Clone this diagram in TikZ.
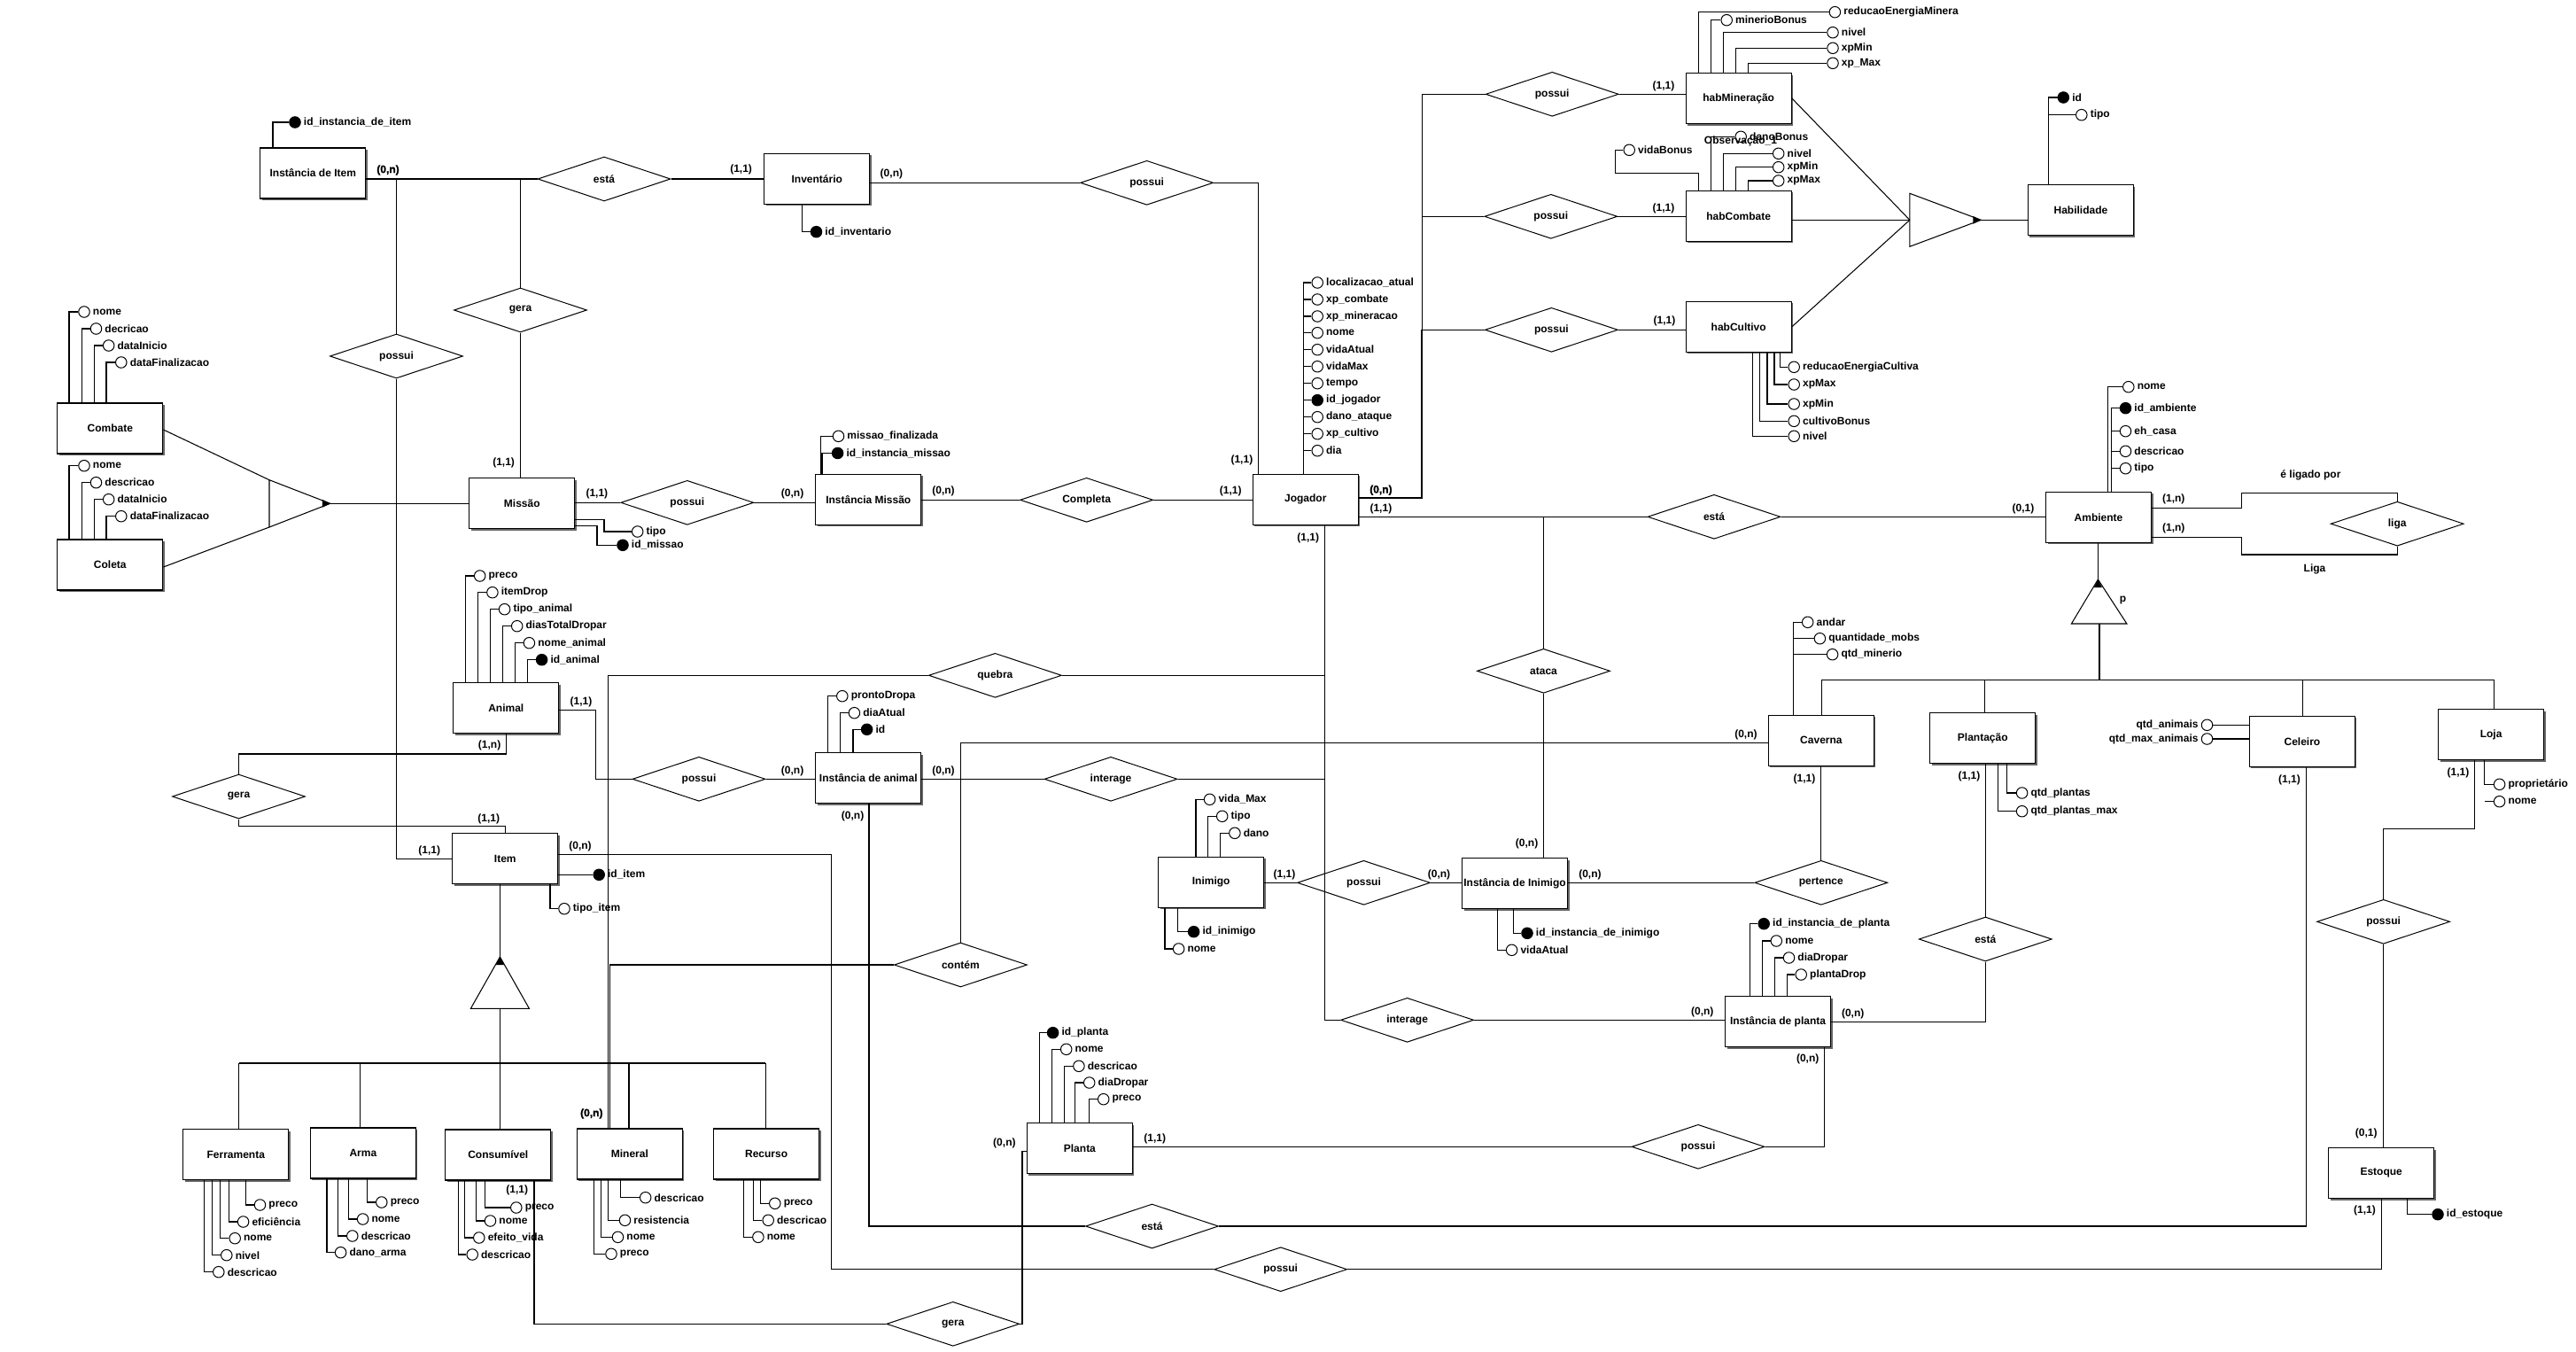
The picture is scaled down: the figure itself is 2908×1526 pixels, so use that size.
\documentclass[tikz,border=0pt]{standalone}
\usepackage{fontspec}
\setmainfont{Liberation Sans}
\newfontfamily\heavyfont{Liberation Sans Bold}[FakeBold=1.5]
\usetikzlibrary{shapes.geometric,shadows}
\newcommand\erfont{\fontsize{12}{14}\selectfont\bfseries}
\newcommand\Atr[4][atc]{\node[#1] (#2) at (#3) {}; \node[atl] (#2t) at (#2.east) {#4};}
\newcommand\AtrL[4][atc]{\node[#1] (#2) at (#3) {}; \node[atll] (#2t) at (#2.west) {#4};}
\tikzset{
 ent/.style={draw, line width=1.3pt, fill=white, minimum width=119pt, minimum height=57pt, inner sep=0pt, font=\erfont, general shadow={fill=black!60, shadow xshift=2pt, shadow yshift=-2pt}},
 rel/.style={draw, diamond, aspect=3, minimum width=150pt, minimum height=50pt, inner sep=0pt, line width=1pt, font=\erfont},
 atc/.style={draw, circle, minimum size=12.5pt, inner sep=0pt, line width=1pt, fill=white},
 atk/.style={atc, fill=black},
 atl/.style={anchor=west, inner sep=0pt, xshift=3pt, font=\erfont},
 atll/.style={anchor=east, inner sep=0pt, xshift=-3pt, font=\erfont},
 card/.style={inner sep=0pt, font=\erfont},
 heavycard/.style={inner sep=0pt, font=\fontsize{12}{14}\heavyfont},
 con/.style={line width=1.05pt},
 thk/.style={line width=2.6pt},
}
\begin{document}
\begin{tikzpicture}[x=1pt,y=-1pt]
\fill[white] (0,0) rectangle (2908,1526);
\useasboundingbox (0,0) rectangle (2908,1526);

% ---------- entities
\node[ent] (InstItem) at (353.3,195.5) {Instância de Item};
\node[ent] (Inventario) at (922.3,201.7) {Inventário};
\node[ent] (Combate) at (124.3,483.5) {Combate};
\node[ent] (Coleta) at (124.3,637.5) {Coleta};
\node[ent] (Missao) at (589.3,568) {Missão};
\node[ent] (InstMissao) at (980.3,563.8) {Instância Missão};
\node[ent] (Jogador) at (1473.8,563.8) {Jogador};
\node[ent] (habMin) at (1962.7,111) {habMineração};
\node[ent] (habComb) at (1962.7,243.8) {habCombate};
\node[ent] (habCult) at (1962.7,368.8) {habCultivo};
\node[ent] (Habilidade) at (2348.9,237.2) {Habilidade};
\node[ent] (Ambiente) at (2369,583.8) {Ambiente};
\node[ent] (Animal) at (571.3,799) {Animal};
\node[ent] (InstAnimal) at (980.3,878) {Instância de animal};
\node[ent] (Item) at (570.3,969.2) {Item};
\node[ent] (Inimigo) at (1367.2,995.8) {Inimigo};
\node[ent] (InstInimigo) at (1710,997) {Instância de Inimigo};
\node[ent] (Caverna) at (2055.9,835.8) {Caverna};
\node[ent] (Plantacao) at (2238.3,833) {Plantação};
\node[ent] (Celeiro) at (2598.9,836.8) {Celeiro};
\node[ent] (Loja) at (2812.1,829.2) {Loja};
\node[ent] (InstPlanta) at (2007,1153.3) {Instância de planta};
\node[ent] (Planta) at (1218.9,1296) {Planta};
\node[ent] (Estoque) at (2688.2,1324) {Estoque};
\node[ent] (Ferramenta) at (266.3,1303.2) {Ferramenta};
\node[ent] (Arma) at (409.9,1301.4) {Arma};
\node[ent] (Consumivel) at (562.3,1303.4) {Consumível};
\node[ent] (Mineral) at (710.9,1302.5) {Mineral};
\node[ent] (Recurso) at (865.1,1302.5) {Recurso};

% ---------- relationships
\node[rel] (estaItem) at (682,202) {está};
\node[rel] (possuiInv) at (1294.6,206.3) {possui};
\node[rel] (geraUp) at (587.5,350) {gera};
\node[rel] (possuiItem) at (447.5,402) {possui};
\node[rel] (possuiMissao) at (775.8,567.3) {possui};
\node[rel] (Completa) at (1226.6,564.3) {Completa};
\node[rel] (possuiMin) at (1752.2,106.3) {possui};
\node[rel] (possuiComb) at (1750.8,244.3) {possui};
\node[rel] (possuiCult) at (1751.4,372.3) {possui};
\node[rel] (estaAmb) at (1935,583.3) {está};
\node[rel] (liga) at (2706.2,591.2) {liga};
\node[rel] (quebra) at (1123.4,762.3) {quebra};
\node[rel] (ataca) at (1742.5,757.3) {ataca};
\node[rel] (possuiAnimal) at (789,879.3) {possui};
\node[rel] (interageUp) at (1254,879.3) {interage};
\node[rel] (geraLeft) at (269.5,899) {gera};
\node[rel] (possuiInimigo) at (1539.5,996.3) {possui};
\node[rel] (pertence) at (2055.8,996.3) {pertence};
\node[rel] (contem) at (1084.4,1089) {contém};
\node[rel] (estaPlant) at (2241.3,1060) {está};
\node[rel] (possuiLoja) at (2690.6,1040.3) {possui};
\node[rel] (interageLow) at (1588.6,1151.3) {interage};
\node[rel] (possuiPlanta) at (1917,1294.3) {possui};
\node[rel] (estaLow) at (1300.5,1384) {está};
\node[rel] (possuiLow) at (1445.7,1432.7) {possui};
\node[rel] (geraLow) at (1075.8,1494.3) {gera};

% ---------- generalization triangles
\coordinate (gA1) at (304,541.7); \coordinate (gA2) at (304,595); \coordinate (gAp) at (372.8,568.3);
\draw[con] (gA1) -- (gA2) -- (gAp) -- cycle;
\fill (gAp) -- ++(-9,-4.5) -- ++(0,9) -- cycle;
\coordinate (gH1) at (2155.9,218.3); \coordinate (gH2) at (2155.9,278.3); \coordinate (gHap) at (2236.3,248.3); \coordinate (gHm) at (2155.9,248.3);
\draw[con] (gH1) -- (gH2) -- (gHap) -- cycle;
\fill (gHap) -- ++(-9,-4.5) -- ++(0,9) -- cycle;
\coordinate (gIap) at (564.4,1080); \coordinate (gIb1) at (531.4,1138.3); \coordinate (gIb2) at (597.4,1138.3); \coordinate (gIbm) at (564.4,1138.3);
\draw[con] (gIap) -- (gIb1) -- (gIb2) -- cycle;
\fill (gIap) -- ++(-4.5,9) -- ++(9,0) -- cycle;
\coordinate (gEap) at (2368.4,654); \coordinate (gEb1) at (2338.4,704); \coordinate (gEb2) at (2400.9,704); \coordinate (gEbm) at (2369.6,704);
\draw[con] (gEap) -- (gEb1) -- (gEb2) -- cycle;
\fill (gEap) -- ++(-4.5,9) -- ++(9,0) -- cycle;

% ---------- connectors
\draw[thk] (InstItem.east |- 0,202) -- (587.5,202);
\draw[con] (587.5,202) -- (estaItem.west);
\draw[con] (estaItem.east) -- (Inventario.west |- estaItem.east);
\draw[con] (Inventario.east |- possuiInv.west) -- (possuiInv.west);
\draw[con] (possuiInv.east) -- (1420.3,206.3) -- (Jogador.north -| 1420.3,0);
\draw[con] (447.5,202) -- (possuiItem.north);
\draw[con] (possuiItem.south) -- (447.5,969.3) -- (Item.west |- 0,969.3);
\draw[con] (geraUp.north) -- (587.5,202);
\draw[con] (geraUp.south) -- (Missao.north -| geraUp.south);
\draw[con] (Combate.east |- 0,485) -- (gA1);
\draw[con] (Coleta.east |- 0,640) -- (gA2);
\draw[con] (gAp) -- (Missao.west |- gAp);
\draw[con] (Missao.east |- possuiMissao.west) -- (possuiMissao.west);
\draw[con] (possuiMissao.east) -- (InstMissao.west |- possuiMissao.east);
\draw[con] (InstMissao.east |- Completa.west) -- (Completa.west);
\draw[con] (Completa.east) -- (Jogador.west |- Completa.east);
\draw[line width=2.3pt] (Jogador.east |- 0,562.3) -- (1605.2,562.3) -- (1605.2,372.3);
\draw[con] (1605.2,372.3) -- (1605.2,106.3) -- (possuiMin.west);
\draw[con] (1605.2,244.3) -- (possuiComb.west);
\draw[con] (1605.2,372.3) -- (possuiCult.west);
\draw[con] (possuiMin.east) -- (habMin.west |- possuiMin.east);
\draw[con] (possuiComb.east) -- (habComb.west |- possuiComb.east);
\draw[con] (possuiCult.east) -- (habCult.west |- possuiCult.east);
\draw[con] (habMin.east) -- (gHm);
\draw[con] (habComb.east |- gHm) -- (gHm);
\draw[con] (habCult.east) -- (gHm);
\draw[con] (gHap) -- (Habilidade.west |- gHap);
\draw[con] (Jogador.east |- 0,583.3) -- (estaAmb.west);
\draw[con] (estaAmb.east) -- (Ambiente.west |- estaAmb.east);
\draw[con] (1742.5,583.3) -- (ataca.north);
\draw[con] (ataca.south) -- (InstInimigo.north -| ataca.south);
\draw[con] (Jogador.south -| 1495.7,0) -- (1495.7,1151.3) -- (interageLow.west);
\draw[con] (quebra.east) -- (1495.7,762.3);
\draw[con] (quebra.west) -- (686.6,762.3) -- (Mineral.north -| 686.6,0);
\draw[con] (Caverna.west |- 0,838.3) -- (1084.4,838.3) -- (contem.north);
\draw[con] (contem.west) -- (688.8,1089) -- (Mineral.north -| 688.8,0);
\draw[con] (interageUp.east) -- (1495.7,879.3);
\draw[con] (InstAnimal.east |- interageUp.west) -- (interageUp.west);
\draw[con] (Animal.east |- 0,801.7) -- (672.5,801.7) -- (672.5,879.3) -- (possuiAnimal.west);
\draw[con] (possuiAnimal.east) -- (InstAnimal.west |- possuiAnimal.east);
\draw[con] (Animal.south) -- (571.3,851) -- (269.5,851) -- (geraLeft.north);
\draw[con] (geraLeft.south) -- (269.5,932.3) -- (570.3,932.3) -- (Item.north);
\draw[con] (Item.east |- 0,964.3) -- (938.5,964.3) -- (938.5,1432.7) -- (possuiLow.west);
\draw[con] (possuiLow.east) -- (2688.5,1432.7) -- (Estoque.south -| 2688.5,0);
\draw[con] (InstAnimal.south -| 981,0) -- (981,1384) -- (estaLow.west);
\draw[con] (estaLow.east) -- (2603.6,1384) -- (Celeiro.south -| 2603.6,0);
\draw[con] (Item.south -| gIap) -- (gIap);
\draw[con] (gIbm) -- (564.4,1200);
\draw[con] (269.5,1200) -- (864.4,1200);
\draw[con] (269.5,1200) -- (Ferramenta.north -| 269.5,0);
\draw[con] (406.3,1200) -- (Arma.north -| 406.3,0);
\draw[con] (564.4,1200) -- (Consumivel.north -| 564.4,0);
\draw[con] (710,1200) -- (Mineral.north -| 710,0);
\draw[con] (864.4,1200) -- (Recurso.north -| 864.4,0);
\draw[con] (Consumivel.south -| 603,0) -- (603,1494.3) -- (geraLow.west);
\draw[con] (geraLow.east) -- (1154,1494.3) -- (1154,1299.3) -- (Planta.west |- 0,1299.3);
\draw[con] (Planta.east |- possuiPlanta.west) -- (possuiPlanta.west);
\draw[con] (possuiPlanta.east) -- (2059.6,1294.3) -- (InstPlanta.south -| 2059.6,0);
\draw[con] (interageLow.east) -- (InstPlanta.west |- interageLow.east);
\draw[con] (InstPlanta.east) -- (2241.3,1153.3) -- (estaPlant.south);
\draw[con] (estaPlant.north) -- (Plantacao.south -| estaPlant.north);
\draw[con] (Inimigo.east |- possuiInimigo.west) -- (possuiInimigo.west);
\draw[con] (possuiInimigo.east) -- (InstInimigo.west |- possuiInimigo.east);
\draw[con] (InstInimigo.east |- pertence.west) -- (pertence.west);
\draw[con] (pertence.north) -- (Caverna.south -| pertence.north);
\draw[con] (Ambiente.south -| gEap) -- (gEap);
\draw[line width=2pt] (gEbm) -- (2369.6,767.7);
\draw[con] (2056.3,767.7) -- (2815.9,767.7);
\draw[con] (2056.3,767.7) -- (Caverna.north -| 2056.3,0);
\draw[con] (2240.6,767.7) -- (Plantacao.north -| 2240.6,0);
\draw[con] (2599.8,767.7) -- (Celeiro.north -| 2599.8,0);
\draw[con] (2815.9,767.7) -- (Loja.north -| 2815.9,0);
\draw[con] (Ambiente.east |- 0,573.3) -- (2530.6,573.3) -- (2530.6,556.7) -- (2706.2,556.7) -- (liga.north);
\draw[con] (Ambiente.east |- 0,606.7) -- (2530.6,606.7) -- (2530.6,626) -- (2706.2,626) -- (liga.south);
\draw[con] (Loja.south -| 2793.5,0) -- (2793.5,935.7) -- (2690.6,935.7) -- (possuiLoja.north);
\draw[con] (possuiLoja.south) -- (Estoque.north -| possuiLoja.south);

% ---------- cardinalities and free texts
\node[heavycard] (k1) at (438,192) {(0,n)};
\node[card] (k2) at (836.6,191.7) {(1,1)};
\node[card] (k3) at (1006.4,196.7) {(0,n)};
\node[card] (k4) at (1401.9,519) {(1,1)};
\node[card] (k5) at (568.6,522.7) {(1,1)};
\node[card] (k6) at (673.9,557.7) {(1,1)};
\node[card] (k7) at (894.6,557.7) {(0,n)};
\node[card] (k8) at (1065,554.3) {(0,n)};
\node[card] (k9) at (1389.2,554.3) {(1,1)};
\node[heavycard] (k10) at (1558.9,553.3) {(0,n)};
\node[card] (k11) at (1558.9,574) {(1,1)};
\node[card] (k12) at (1476.8,607.3) {(1,1)};
\node[card] (k13) at (2284,574) {(0,1)};
\node[card] (k14) at (2453.8,563.3) {(1,n)};
\node[card] (k15) at (2453.8,596.7) {(1,n)};
\node[card] (k16) at (1878,97) {(1,1)};
\node[card] (k17) at (1878,235.3) {(1,1)};
\node[card] (k18) at (1878.9,362.7) {(1,1)};
\node[card] (k19) at (656,792) {(1,1)};
\node[card] (k20) at (552.6,841.7) {(1,n)};
\node[card] (k21) at (894.6,870) {(0,n)};
\node[card] (k22) at (1065,870) {(0,n)};
\node[card] (k23) at (962.6,921) {(0,n)};
\node[card] (k24) at (551.7,924) {(1,1)};
\node[card] (k25) at (484.7,960) {(1,1)};
\node[card] (k26) at (655,955) {(0,n)};
\node[card] (k27) at (1970.9,829.3) {(0,n)};
\node[card] (k28) at (2037,879) {(1,1)};
\node[card] (k29) at (2223,876.7) {(1,1)};
\node[card] (k30) at (2584.5,880) {(1,1)};
\node[card] (k31) at (2774.9,872.7) {(1,1)};
\node[card] (k32) at (1723.6,952) {(0,n)};
\node[card] (k33) at (1450,987.3) {(1,1)};
\node[card] (k34) at (1624.5,987.3) {(0,n)};
\node[card] (k35) at (1794.9,987.3) {(0,n)};
\node[card] (k36) at (1921.8,1142) {(0,n)};
\node[card] (k37) at (2091.7,1144) {(0,n)};
\node[card] (k38) at (2040.7,1195) {(0,n)};
\node[card] (k39) at (1133.9,1290) {(0,n)};
\node[card] (k40) at (1303.7,1285) {(1,1)};
\node[card] (k41) at (2671.3,1279.3) {(0,1)};
\node[card] (k42) at (2669.4,1366.7) {(1,1)};
\node[heavycard] (k43) at (667.8,1257) {(0,n)};
\node[card] (k44) at (583.7,1343.3) {(1,1)};
\node[card] (tLigado) at (2608.4,536) {é ligado por};
\node[card] (tLiga) at (2613,642.7) {Liga};
\node[card] (tP) at (2396.6,677.7) {p};

% ---------- attributes
\Atr[atk]{iia}{333,138}{id\_instancia\_de\_item}
\draw[con] (InstItem.north -| 308,0) |- (iia.west);
\Atr[atk]{inva}{921.5,261.7}{id\_inventario}
\draw[con] (Inventario.south -| 905.5,0) |- (inva.west);

\Atr{cb1}{95,352}{nome} \draw[con] (Combate.north -| 78,0) |- (cb1.west);
\Atr{cb2}{108.5,371}{decricao} \draw[con] (Combate.north -| 92.5,0) |- (cb2.west);
\Atr{cb3}{122.7,390}{dataInicio} \draw[con] (Combate.north -| 106.6,0) |- (cb3.west);
\Atr{cb4}{136.8,409}{dataFinalizacao} \draw[con] (Combate.north -| 120,0) |- (cb4.west);
\Atr{cl1}{95,525.7}{nome} \draw[con] (Coleta.north -| 78,0) |- (cl1.west);
\Atr{cl2}{108.5,544.7}{descricao} \draw[con] (Coleta.north -| 92.5,0) |- (cl2.west);
\Atr{cl3}{122.7,563.7}{dataInicio} \draw[con] (Coleta.north -| 106.6,0) |- (cl3.west);
\Atr{cl4}{136.8,582.7}{dataFinalizacao} \draw[con] (Coleta.north -| 120,0) |- (cl4.west);

\Atr{ms1}{719.7,600}{tipo}
\draw[con] (Missao.east |- 0,586.7) -- (682,586.7) |- (ms1.west);
\Atr[atk]{ms2}{703,615.3}{id\_missao}
\draw[con] (Missao.east |- 0,593.3) -- (674,593.3) |- (ms2.west);

\Atr{im1}{946.5,492.3}{missao\_finalizada} \draw[con] (InstMissao.north -| 926.2,0) |- (im1.west);
\Atr[atk]{im2}{945.6,511.5}{id\_instancia\_missao} \draw[con] (InstMissao.north -| 928,0) |- (im2.west);

\Atr{jg1}{1487.2,319}{localizacao\_atual}
\Atr{jg2}{1487.2,338}{xp\_combate}
\Atr{jg3}{1487.2,357}{xp\_mineracao}
\Atr{jg4}{1487.2,375.7}{nome}
\Atr{jg5}{1487.2,394.7}{vidaAtual}
\Atr{jg6}{1487.2,413.7}{vidaMax}
\Atr{jg7}{1487.2,432.7}{tempo}
\Atr[atk]{jg8}{1487.2,451.7}{id\_jogador}
\Atr{jg9}{1487.2,470.7}{dano\_ataque}
\Atr{jg10}{1487.2,489.7}{xp\_cultivo}
\Atr{jg11}{1487.2,508.7}{dia}
\draw[con] (Jogador.north -| 1471.1,0) |- (jg1.west);
\foreach \k in {2,...,11} {\draw[con] (1471.1,0 |- jg\k.west) -- (jg\k.west);}

\Atr{hm1}{2071.4,13.7}{reducaoEnergiaMinera} \draw[con] (habMin.north -| 1917.6,0) |- (hm1.west);
\Atr{hm2}{1949.2,22.7}{minerioBonus} \draw[con] (habMin.north -| 1931.7,0) |- (hm2.west);
\Atr{hm3}{2069,36.7}{nivel} \draw[con] (habMin.north -| 1945.9,0) |- (hm3.west);
\Atr{hm4}{2069,54.3}{xpMin} \draw[con] (habMin.north -| 1959.6,0) |- (hm4.west);
\Atr{hm5}{2069,71.3}{xp\_Max} \draw[con] (habMin.north -| 1973.7,0) |- (hm5.west);

\Atr{hc1}{1839.2,169.3}{vidaBonus}
\draw[con] (habComb.north -| 1917.6,0) -- (1917.6,195.3) -- (1823.7,195.3) |- (hc1.west);
\Atr{hc2}{1965.2,154.3}{danoBonus} \draw[con] (habComb.north -| 1931.7,0) |- (hc2.west);
\Atr{hc3}{2007.7,173.3}{nivel} \draw[con] (habComb.north -| 1945.9,0) |- (hc3.west);
\Atr{hc4}{2007.7,188.7}{xpMin} \draw[con] (habComb.north -| 1959.6,0) |- (hc4.west);
\Atr{hc5}{2007.7,204}{xpMax} \draw[con] (habComb.north -| 1973.7,0) |- (hc5.west);
\node[card] (tObs) at (1965,159.3) {Observação\_1};

\Atr{hv1}{2025.2,414.3}{reducaoEnergiaCultiva} \draw[con] (habCult.south -| 2009.6,0) |- (hv1.west);
\Atr{hv2}{2025.2,434}{xpMax} \draw[con] (habCult.south -| 2003,0) |- (hv2.west);
\Atr{hv3}{2025.2,456}{xpMin} \draw[con] (habCult.south -| 1995,0) |- (hv3.west);
\Atr{hv4}{2025.2,475.3}{cultivoBonus} \draw[con] (habCult.south -| 1986.5,0) |- (hv4.west);
\Atr{hv5}{2025.2,492.3}{nivel} \draw[con] (habCult.south -| 1978.4,0) |- (hv5.west);

\Atr[atk]{hb1}{2329.3,110}{id} \draw[con] (Habilidade.north -| 2312.6,0) |- (hb1.west);
\Atr{hb2}{2349.8,129.7}{tipo} \draw[con] (2312.6,0 |- hb2.west) -- (hb2.west);

\Atr{am1}{2402.8,436.7}{nome} \draw[con] (Ambiente.north -| 2379.4,0) |- (am1.west);
\Atr[atk]{am2}{2399.5,460.7}{id\_ambiente} \draw[con] (Ambiente.north -| 2383.2,0) |- (am2.west);
\Atr{am3}{2399.5,486.7}{eh\_casa} \draw[con] (2383.2,0 |- am3.west) -- (am3.west);
\Atr{am4}{2399.5,509.3}{descricao} \draw[con] (2383.2,0 |- am4.west) -- (am4.west);
\Atr{am5}{2399.5,528.7}{tipo} \draw[con] (2383.2,0 |- am5.west) -- (am5.west);

\Atr{an1}{541.7,650}{preco} \draw[con] (Animal.north -| 525.2,0) |- (an1.west);
\Atr{an2}{555.9,668.7}{itemDrop} \draw[con] (Animal.north -| 539.4,0) |- (an2.west);
\Atr{an3}{569.6,687.7}{tipo\_animal} \draw[con] (Animal.north -| 553.5,0) |- (an3.west);
\Atr{an4}{583.7,706.7}{diasTotalDropar} \draw[con] (Animal.north -| 567.7,0) |- (an4.west);
\Atr{an5}{597.4,725.7}{nome\_animal} \draw[con] (Animal.north -| 581.4,0) |- (an5.west);
\Atr[atk]{an6}{611.6,744.7}{id\_animal} \draw[con] (Animal.north -| 595.5,0) |- (an6.west);

\Atr{ia1}{950.8,785.7}{prontoDropa} \draw[con] (InstAnimal.north -| 934.7,0) |- (ia1.west);
\Atr{ia2}{964.4,804.7}{diaAtual} \draw[con] (InstAnimal.north -| 948.9,0) |- (ia2.west);
\Atr[atk]{ia3}{978.6,823.3}{id} \draw[con] (InstAnimal.north -| 963,0) |- (ia3.west);

\Atr[atk]{it1}{676.2,987.3}{id\_item} \draw[con] (Item.east |- it1.west) -- (it1.west);
\Atr{it2}{637,1025.7}{tipo\_item} \draw[con] (Item.south -| 621,0) |- (it2.west);

\Atr{in1}{1365.6,902.3}{vida\_Max} \draw[con] (Inimigo.north -| 1350,0) |- (in1.west);
\Atr{in2}{1379.7,921.3}{tipo} \draw[con] (Inimigo.north -| 1363.7,0) |- (in2.west);
\Atr{in3}{1393.9,940.3}{dano} \draw[con] (Inimigo.north -| 1377.4,0) |- (in3.west);
\Atr[atk]{in4}{1347.6,1051.7}{id\_inimigo} \draw[con] (Inimigo.south -| 1329.2,0) |- (in4.west);
\Atr{in5}{1330.6,1071}{nome} \draw[con] (Inimigo.south -| 1315,0) |- (in5.west);

\Atr[atk]{ii1}{1724,1053.3}{id\_instancia\_de\_inimigo} \draw[con] (InstInimigo.south -| 1708.5,0) |- (ii1.west);
\Atr{ii2}{1706.6,1072.3}{vidaAtual} \draw[con] (InstInimigo.south -| 1690.6,0) |- (ii2.west);

\Atr{cv1}{2040.7,702.3}{andar} \draw[con] (Caverna.north -| 2024.7,0) |- (cv1.west);
\Atr{cv2}{2054.4,720.7}{quantidade\_mobs} \draw[con] (2024.7,0 |- cv2.west) -- (cv2.west);
\Atr{cv3}{2068.6,738.7}{qtd\_minerio} \draw[con] (2024.7,0 |- cv3.west) -- (cv3.west);

\Atr{pl1}{2282.6,895}{qtd\_plantas} \draw[con] (Plantacao.south -| 2265,0) |- (pl1.west);
\Atr{pl2}{2282.6,915.7}{qtd\_plantas\_max} \draw[con] (Plantacao.south -| 2255.4,0) |- (pl2.west);

\AtrL{ce1}{2491.5,818.3}{qtd\_animais} \draw[con] (ce1.east) -- (Celeiro.west |- ce1.east);
\AtrL{ce2}{2491.5,834}{qtd\_max\_animais} \draw[con] (ce2.east) -- (Celeiro.west |- ce2.east);

\Atr{lj1}{2821.6,885.3}{proprietário} \draw[con] (Loja.south -| 2804.9,0) |- (lj1.west);
\Atr{lj2}{2821.6,904.7}{nome} \draw[con] (2804.9,0 |- lj2.west) -- (lj2.west);

\Atr[atk]{ip1}{1991.2,1042.7}{id\_instancia\_de\_planta} \draw[con] (InstPlanta.north -| 1975.6,0) |- (ip1.west);
\Atr{ip2}{2005.3,1062}{nome} \draw[con] (InstPlanta.north -| 1989.3,0) |- (ip2.west);
\Atr{ip3}{2019.5,1081}{diaDropar} \draw[con] (InstPlanta.north -| 2003.4,0) |- (ip3.west);
\Atr{ip4}{2033.2,1100}{plantaDrop} \draw[con] (InstPlanta.north -| 2017.6,0) |- (ip4.west);

\Atr[atk]{pt1}{1188.6,1165.7}{id\_planta} \draw[con] (Planta.north -| 1173.5,0) |- (pt1.west);
\Atr{pt2}{1203.7,1184.3}{nome} \draw[con] (Planta.north -| 1187.7,0) |- (pt2.west);
\Atr{pt3}{1217.9,1203.3}{descricao} \draw[con] (Planta.north -| 1201.4,0) |- (pt3.west);
\Atr{pt4}{1229.7,1222}{diaDropar} \draw[con] (Planta.north -| 1213.6,0) |- (pt4.west);
\Atr{pt5}{1245.7,1240.7}{preco} \draw[con] (Planta.north -| 1229.7,0) |- (pt5.west);

\Atr[atk]{es1}{2752,1370.7}{id\_estoque} \draw[con] (Estoque.south -| 2717.6,0) |- (es1.west);

\Atr{fe1}{293.5,1360}{preco} \draw[con] (Ferramenta.south -| 277.5,0) |- (fe1.west);
\Atr{fe2}{274.6,1379}{eficiência} \draw[con] (Ferramenta.south -| 258.6,0) |- (fe2.west);
\Atr{fe3}{265.2,1397.7}{nome} \draw[con] (Ferramenta.south -| 248.7,0) |- (fe3.west);
\Atr{fe4}{255.8,1416.7}{nivel} \draw[con] (Ferramenta.south -| 239.7,0) |- (fe4.west);
\Atr{fe5}{246.8,1435.7}{descricao} \draw[con] (Ferramenta.south -| 230.8,0) |- (fe5.west);

\Atr{ar1}{430.8,1357}{preco} \draw[con] (Arma.south -| 414.8,0) |- (ar1.west);
\Atr{ar2}{409.6,1376}{nome} \draw[con] (Arma.south -| 393.6,0) |- (ar2.west);
\Atr{ar3}{397.8,1395}{descricao} \draw[con] (Arma.south -| 381.8,0) |- (ar3.west);
\Atr{ar4}{384.6,1413.7}{dano\_arma} \draw[con] (Arma.south -| 369,0) |- (ar4.west);

\Atr{co1}{582.8,1363}{preco} \draw[con] (Consumivel.south -| 547.4,0) |- (co1.west);
\Atr{co2}{553.5,1378}{nome} \draw[con] (Consumivel.south -| 537.5,0) |- (co2.west);
\Atr{co3}{540.8,1397}{efeito\_vida} \draw[con] (Consumivel.south -| 524.3,0) |- (co3.west);
\Atr{co4}{533.2,1416}{descricao} \draw[con] (Consumivel.south -| 517.7,0) |- (co4.west);

\Atr{mi1}{728.7,1351.7}{descricao} \draw[con] (Mineral.south -| 700.3,0) |- (mi1.west);
\Atr{mi2}{705.5,1377.3}{resistencia} \draw[con] (Mineral.south -| 686.6,0) |- (mi2.west);
\Atr{mi3}{697.5,1396.3}{nome} \draw[con] (Mineral.south -| 678.6,0) |- (mi3.west);
\Atr{mi4}{690,1415.3}{preco} \draw[con] (Mineral.south -| 670.6,0) |- (mi4.west);

\Atr{re1}{874.8,1358.3}{preco} \draw[con] (Recurso.south -| 858.3,0) |- (re1.west);
\Atr{re2}{867.2,1377.3}{descricao} \draw[con] (Recurso.south -| 850.3,0) |- (re2.west);
\Atr{re3}{855.9,1396.3}{nome} \draw[con] (Recurso.south -| 839.9,0) |- (re3.west);
\end{tikzpicture}
\end{document}
